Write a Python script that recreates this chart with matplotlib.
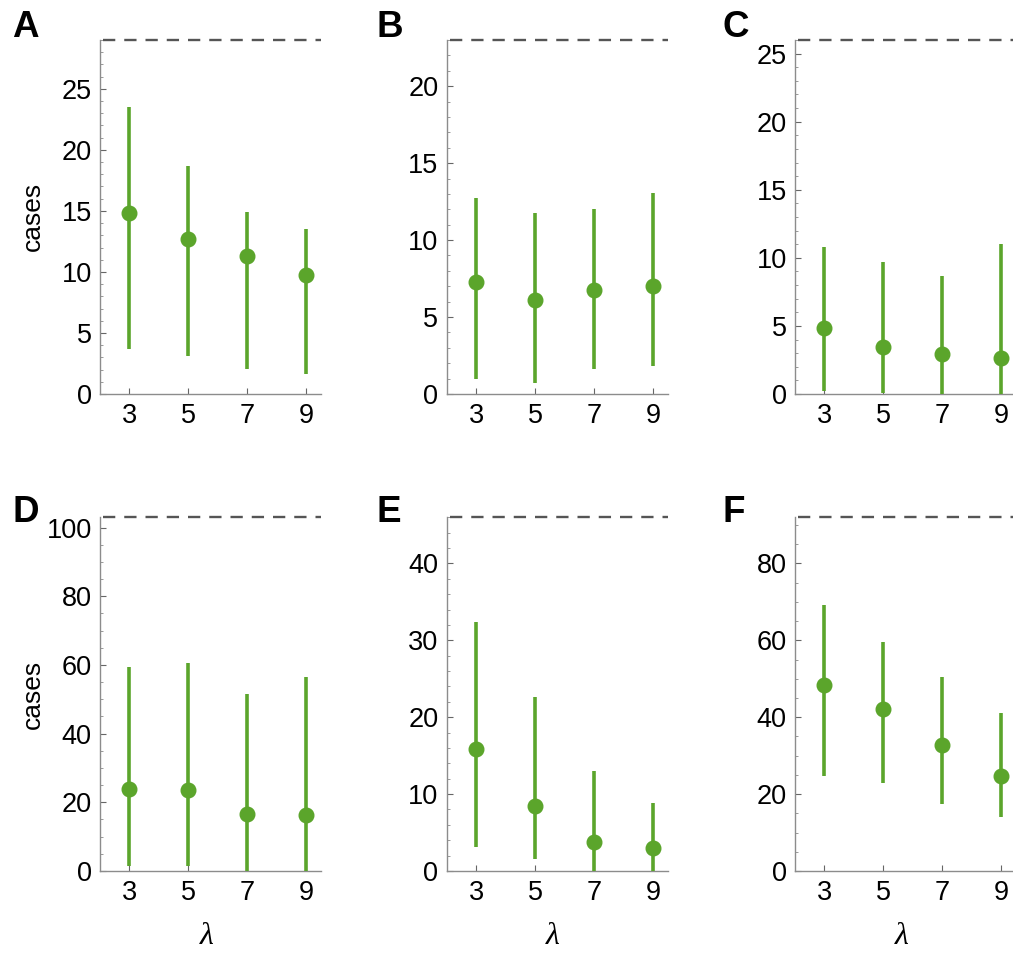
import matplotlib
matplotlib.use("Agg")
import matplotlib.pyplot as plt
from matplotlib.ticker import MultipleLocator

plt.rcParams['font.family'] = ['Liberation Sans', 'DejaVu Sans']

lam = [3, 5, 7, 9]

# panel data: median, lower, upper
A_mid = [14.8, 12.7, 11.3, 9.75]
A_lo = [3.65, 3.1, 2.05, 1.65]
A_hi = [23.5, 18.65, 14.9, 13.5]

B_mid = [7.27, 6.12, 6.73, 7.03]
B_lo = [1.0, 0.7, 1.62, 1.82]
B_hi = [12.75, 11.73, 11.99, 13.03]

C_mid = [4.87, 3.42, 2.91, 2.67]
C_lo = [0.2, 0.1, 0.0, 0.0]
C_hi = [10.76, 9.66, 8.63, 11.0]

D_mid = [23.8, 23.5, 16.7, 16.3]
D_lo = [1.5, 1.5, 0.0, 0.0]
D_hi = [59.3, 60.7, 51.6, 56.6]

E_mid = [15.9, 8.4, 3.77, 2.95]
E_lo = [3.16, 1.56, 0.0, 0.0]
E_hi = [32.4, 22.6, 12.96, 8.84]

F_mid = [48.3, 42.1, 32.8, 24.7]
F_lo = [24.7, 22.8, 17.4, 14.1]
F_hi = [69.3, 59.5, 50.5, 41.0]

# dashed reference level (top of each panel)
ref_level = [29, 23, 26, 103, 46, 92]
major_step = [5, 5, 5, 20, 10, 20]
minor_step = [1, 1, 1, 5, 2, 5]
letters = ['A', 'B', 'C', 'D', 'E', 'F']

panels = [(A_mid, A_lo, A_hi), (B_mid, B_lo, B_hi), (C_mid, C_lo, C_hi),
          (D_mid, D_lo, D_hi), (E_mid, E_lo, E_hi), (F_mid, F_lo, F_hi)]

W, H = 1013, 956
fig = plt.figure(figsize=(W / 100, H / 100), dpi=100)

green = '#5ba52b'
axcol = '#8c8c8c'

lefts = [100, 446.7, 795]
tops = [40, 517.3]
bottoms = [394, 871]
aw = 221
letter_x = [12, 376, 722]
letter_base = [37, 522]

for i, (mid, lo, hi) in enumerate(panels):
    r, c = divmod(i, 3)
    ax = fig.add_axes([lefts[c] / W, 1 - bottoms[r] / H, aw / W, (bottoms[r] - tops[r]) / H])
    yerr = [[m - l for m, l in zip(mid, lo)], [h - m for m, h in zip(mid, hi)]]
    ax.errorbar(lam, mid, yerr=yerr, fmt='o', color=green, ms=10.5, elinewidth=2.6,
                capsize=0, zorder=3, clip_on=False)
    ax.set_xlim(2, 9.5)
    ax.set_ylim(0, ref_level[i])
    ax.axhline(ref_level[i], xmin=0.015, xmax=1, color='#555555', lw=1.7,
               linestyle=(0, (5.2, 3.8)), clip_on=False, zorder=4)
    ax.set_xticks(lam)
    ax.yaxis.set_major_locator(MultipleLocator(major_step[i]))
    ax.yaxis.set_minor_locator(MultipleLocator(minor_step[i]))
    for s in ['top', 'right']:
        ax.spines[s].set_visible(False)
    for s in ['left', 'bottom']:
        ax.spines[s].set_color(axcol)
        ax.spines[s].set_linewidth(1.0)
    ax.tick_params(axis='both', which='major', direction='in', length=4.5, width=0.8,
                   color='#666666', labelsize=19.5, pad=6)
    ax.tick_params(axis='y', which='minor', direction='in', length=2.5, width=0.6,
                   color='#888888')
    ax.tick_params(axis='x', pad=6.5)
    fig.text(letter_x[c] / W, 1 - letter_base[r] / H, letters[i], fontsize=26.5,
             fontweight='bold', ha='left', va='baseline')
    if r == 1:
        fig.text((lefts[c] + aw * 0.5 - 4) / W, 1 - 937 / H, 'λ', fontsize=23,
                 family='Liberation Serif', style='italic', ha='center', va='center')
    if c == 0:
        fig.text(33 / W, 1 - (216 if r == 0 else 694) / H, 'cases', fontsize=19,
                 rotation=90, ha='center', va='center')

fig.savefig('out.png', dpi=100)
